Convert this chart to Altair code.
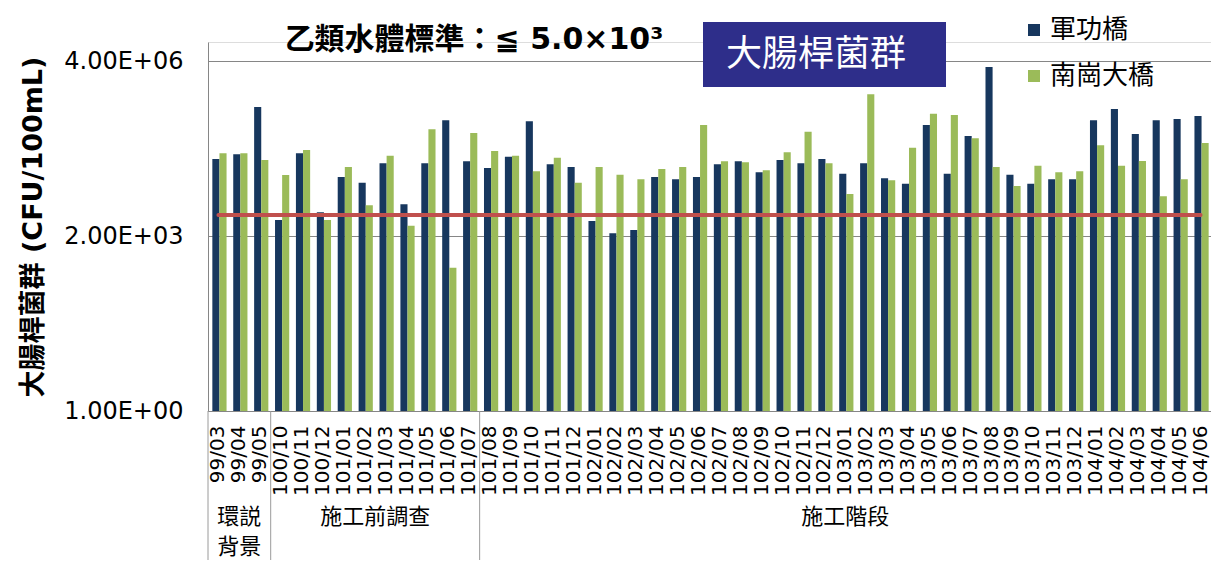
import altair as alt
import pandas as pd

# ---------------- data ----------------
categories = ["99/03", "99/04", "99/05", "100/10", "100/11", "100/12", "101/01", "101/02",
              "101/03", "101/04", "101/05", "101/06", "101/07", "101/08", "101/09", "101/10",
              "101/11", "101/12", "102/01", "102/02", "102/03", "102/04", "102/05", "102/06",
              "102/07", "102/08", "102/09", "102/10", "102/11", "102/12", "103/01", "103/02",
              "103/03", "103/04", "103/05", "103/06", "103/07", "103/08", "103/09", "103/10",
              "103/11", "103/12", "104/01", "104/02", "104/03", "104/04", "104/05", "104/06"]
stations = ["軍功橋", "南崗大橋"]
junggong = [57000, 69700, 544000, 4020, 72800, 5610, 26000, 20300, 47200, 7940, 47200, 305000,
            51400, 38400, 62800, 292000, 45200, 40200, 3850, 2250, 2600, 26000, 23500, 26000,
            45200, 51400, 31900, 54400, 47200, 56900, 30000, 47200, 24600, 19400, 249000, 30000,
            154000, 3100000, 28700, 19400, 23500, 23500, 305000, 499000, 168000, 305000, 323000, 368000]
nangang = [72800, 72800, 54400, 28400, 84100, 4020, 40200, 7600, 65600, 3130, 206000, 506,
           176000, 80500, 65600, 33300, 60100, 20300, 40200, 28700, 23500, 36800, 40200, 249000,
           51400, 49200, 34800, 76000, 186000, 47200, 12400, 945000, 22500, 92900, 407000, 385000,
           140000, 40200, 17600, 42500, 31900, 33300, 103000, 42500, 52100, 11200, 23500, 114000]
standard = 5000
tick_values = [1, 2000, 4000000]
tick_labels = ["1.00E+00", "2.00E+03", "4.00E+06"]
group_names = ["環説\n背景", "施工前調查", "施工階段"]
group_start = [0, 3, 13]
group_end = [3, 13, 48]
y_title = "大腸桿菌群 (CFU/100mL)"
chart_title = "乙類水體標準：≦ 5.0×10³"
box_label = "大腸桿菌群"

# ---------------- tables ----------------
rows = []
for i, c in enumerate(categories):
    rows.append({"cat": c, "station": stations[0], "value": junggong[i]})
    rows.append({"cat": c, "station": stations[1], "value": nangang[i]})
df = pd.DataFrame(rows)
df_std = pd.DataFrame({"cat": categories, "std": [standard] * len(categories)})
df_seps = pd.DataFrame({"cat": [categories[s] for s in group_start]})

W, H = 1003, 369
NAVY = "#17375E"
GREEN = "#9BBB59"
GRID = "#868686"
CJK = "Noto Sans CJK TC"
LAT = "DejaVu Sans, Noto Sans CJK TC"

label_expr = ""
for v, l in zip(tick_values, tick_labels):
    label_expr += f"datum.value == {v} ? '{l}' : "
label_expr += "''"

yscale = alt.Scale(type="log", domain=[1, 9.14e6], nice=False)
xscale = alt.Scale(domain=categories, paddingInner=0, paddingOuter=0)

bars = alt.Chart(df).mark_bar().encode(
    x=alt.X("cat:N", sort=categories, scale=xscale,
            axis=alt.Axis(title=None, labelAngle=270, labelAlign="right", labelBaseline="middle",
                          labelFont="DejaVu Sans", labelFontSize=20, labelColor="black",
                          ticks=False, tickSize=0, labelPadding=14, domainColor=GRID,
                          grid=False, labelOverlap=False)),
    xOffset=alt.XOffset("station:N", sort=stations,
                        scale=alt.Scale(paddingInner=0, paddingOuter=0.47, align=0.65)),
    y=alt.Y("value:Q", scale=yscale, stack=None,
            axis=alt.Axis(values=tick_values, labelExpr=label_expr, grid=True, gridColor=GRID,
                          domainColor=GRID, ticks=False, tickSize=0, labelPadding=25,
                          labelFont="DejaVu Sans", labelFontSize=24, labelColor="black",
                          title=y_title, titleFont=LAT, titleFontSize=27, titleFontWeight="bold",
                          titleColor="black", titleX=-175, titleY=H / 2, titleAngle=270,
                          titleAlign="center", titleBaseline="middle")),
    y2=alt.value(H),
    color=alt.Color("station:N", sort=stations,
                    scale=alt.Scale(domain=stations, range=[NAVY, GREEN]),
                    legend=alt.Legend(orient="none", legendX=813, legendY=-25, direction="vertical",
                                      title=None, symbolType="square", symbolSize=144,
                                      symbolStrokeWidth=0, labelFont=CJK, labelFontSize=26,
                                      labelColor="black", labelOffset=3, rowPadding=20, padding=0)),
)

std_line = alt.Chart(df_std).mark_line(color="#C0504D", strokeWidth=4, strokeCap="round").encode(
    x=alt.X("cat:N", sort=categories),
    y=alt.Y("std:Q"),
)

seps = alt.Chart(df_seps).mark_rule(color="#9A9A9A", strokeWidth=1).encode(
    x=alt.X("cat:N", sort=categories, bandPosition=0),
    y=alt.value(H),
    y2=alt.value(H + 160),
)

# group labels: centred over their range of categories
glayers = []
for name, s, e in zip(group_names, group_start, group_end):
    mid = (s + e) / 2
    idx = min(int(mid), len(categories) - 1)
    bp = mid - idx
    glayers.append(
        alt.Chart(pd.DataFrame({"cat": [categories[idx]], "name": [name]})).mark_text(
            font=CJK, fontSize=22, color="black", lineBreak="\n", lineHeight=30,
            align="center", baseline="top").encode(
            x=alt.X("cat:N", sort=categories, bandPosition=bp),
            y=alt.value(H + 96),
            text="name:N",
        )
    )

box = alt.Chart(alt.Data(values=[{"t": box_label}])).mark_rect(color="#2E2E8A").encode(
    x=alt.value(495), x2=alt.value(738), y=alt.value(-20), y2=alt.value(45),
)
box_text = alt.Chart(alt.Data(values=[{"t": box_label}])).mark_text(
    font=CJK, fontSize=36, color="white", align="center", baseline="middle").encode(
    x=alt.value(608), y=alt.value(13), text="t:N",
)
title_text = alt.Chart(alt.Data(values=[{"t": chart_title}])).mark_text(
    font=LAT, fontSize=30, fontWeight="bold", color="black", align="center",
    baseline="middle").encode(
    x=alt.value(266), y=alt.value(-2), text="t:N",
)

chart = alt.layer(bars, std_line, seps, *glayers, box, box_text, title_text).properties(
    width=W, height=H,
    padding={"left": 200, "top": 34, "right": 0, "bottom": 149},
    autosize=alt.AutoSizeParams(type="none"),
).configure_view(stroke=None).configure(background="white")

chart.save("out.html", embed_options={"renderer": "svg", "actions": False})
